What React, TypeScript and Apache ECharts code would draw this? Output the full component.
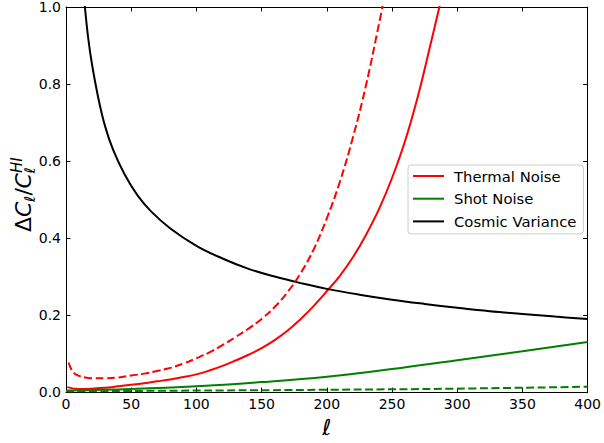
import React, { useEffect, useRef } from "react";
import * as echarts from "echarts";

// Cosmic variance (black)
const cvL = [10, 12, 14.5, 17, 20, 25, 30, 36, 45, 55, 65, 80, 100, 120, 140, 160, 180, 200, 225, 250, 275, 300, 325, 350, 375, 400];
const cvV = [1.2, 1.1, 1.0, 0.92, 0.85, 0.76, 0.69, 0.63, 0.565, 0.51, 0.47, 0.425, 0.38, 0.347, 0.32, 0.3, 0.283, 0.268, 0.253, 0.24, 0.229, 0.219, 0.21, 0.203, 0.196, 0.19];

// Thermal noise (solid red)
const tnL = [1, 10, 20, 30, 40, 50, 60, 70, 80, 90, 100, 110, 120, 130, 140, 150, 160, 170, 180, 190, 200, 210, 220, 230, 240, 250, 260, 270, 280, 287];
const tnV = [0.013, 0.008, 0.009, 0.011, 0.015, 0.019, 0.023, 0.028, 0.033, 0.039, 0.046, 0.056, 0.068, 0.082, 0.097, 0.114, 0.135, 0.16, 0.19, 0.224, 0.262, 0.302, 0.35, 0.408, 0.475, 0.556, 0.652, 0.77, 0.91, 1.01];

// Thermal noise (dashed red)
const tndL = [2, 4, 7, 10, 15, 20, 30, 40, 50, 60, 70, 80, 90, 100, 110, 120, 130, 140, 150, 160, 170, 180, 190, 200, 210, 220, 230, 240, 243];
const tndV = [0.077, 0.06, 0.047, 0.042, 0.038, 0.036, 0.036, 0.038, 0.043, 0.048, 0.055, 0.063, 0.074, 0.088, 0.103, 0.122, 0.143, 0.165, 0.19, 0.221, 0.26, 0.309, 0.371, 0.451, 0.546, 0.661, 0.796, 0.956, 1.007];

// Shot noise (solid green)
const snL = [0, 50, 100, 150, 200, 250, 300, 350, 400];
const snV = [0.004, 0.008, 0.015, 0.026, 0.04, 0.06, 0.083, 0.106, 0.13];

// Shot noise (dashed green)
const sndL = [0, 100, 200, 300, 400];
const sndV = [0.002, 0.004, 0.006, 0.009, 0.014];

const legendNames = ["Thermal Noise", "Shot Noise", "Cosmic Variance"];
const xTicks = { min: 0, max: 400, interval: 50 };
const yTicks = { min: 0, max: 1, interval: 0.2 };

const FONT = "DejaVu Sans";

const zip = (xs: number[], ys: number[]) => xs.map((x, i) => [x, ys[i]]);

// text piece of the rotated y-axis title; baseline offset b, font size fs
const piece = (text: string, x: number, b: number, fs: number, italic: boolean) => ({
  type: "text",
  x,
  y: b - 0.3 * fs,
  style: {
    text,
    fontSize: fs,
    fontStyle: italic ? "italic" : "normal",
    fontFamily: FONT,
    fill: "#000",
    verticalAlign: "middle",
    align: "left",
  },
});

export default function App() {
  const ref = useRef<HTMLDivElement>(null);
  useEffect(() => {
    if (!ref.current) return;
    const chart = echarts.init(ref.current, null, { renderer: "svg" });
    const axisLine = { show: true, onZero: false, lineStyle: { color: "#000", width: 1 } };
    const axisTick = { show: true, inside: true, length: 4.5, lineStyle: { color: "#000", width: 1 } };
    const labelStyle = { fontSize: 14, color: "#000", fontFamily: FONT };
    const line = (name: string, data: number[][], color: string, dashed: boolean) => ({
      type: "line",
      name,
      data,
      symbol: "none",
      showSymbol: false,
      smooth: 0.4,
      clip: true,
      lineStyle: { color, width: 2, type: dashed ? [8, 3.5] : "solid" },
      itemStyle: { color },
      z: 3,
    });
    const sub = 15;
    chart.setOption({
      animation: false,
      backgroundColor: "#fff",
      grid: { left: 66, right: 13, top: 5, bottom: 48, containLabel: false },
      xAxis: [
        {
          type: "value",
          ...xTicks,
          position: "bottom",
          axisLine,
          axisTick,
          axisLabel: { ...labelStyle, margin: 5 },
          splitLine: { show: false },
          name: "ℓ",
          nameLocation: "middle",
          nameGap: 16,
          nameTextStyle: { fontSize: 22, fontStyle: "italic", color: "#000", fontFamily: FONT },
        },
        {
          type: "value",
          ...xTicks,
          position: "top",
          axisLine,
          axisTick,
          axisLabel: { show: false },
          splitLine: { show: false },
        },
      ],
      yAxis: [
        {
          type: "value",
          ...yTicks,
          position: "left",
          axisLine,
          axisTick,
          axisLabel: { ...labelStyle, margin: 5, formatter: (v: number) => v.toFixed(1) },
          splitLine: { show: false },
        },
        {
          type: "value",
          ...yTicks,
          position: "right",
          axisLine,
          axisTick,
          axisLabel: { show: false },
          splitLine: { show: false },
        },
      ],
      legend: {
        orient: "vertical",
        left: 408,
        top: 165,
        data: legendNames,
        icon: "rect",
        itemWidth: 31,
        itemHeight: 2,
        itemGap: 7.7,
        padding: [3.5, 7, 5, 5],
        backgroundColor: "#fff",
        borderColor: "#cccccc",
        borderWidth: 1,
        borderRadius: 3,
        textStyle: { fontSize: 14.8, lineHeight: 14, color: "#000", fontFamily: FONT, padding: [0, 0, 0, 5] },
        selectedMode: false,
      },
      graphic: [
        {
          type: "group",
          x: 30,
          y: 232,
          rotation: Math.PI / 2,
          children: [
            piece("Δ", 0, 0, 22, false),
            piece("C", 15, 0, 22, true),
            piece("ℓ", 30, 4.5, sub, true),
            piece("/", 36.5, 0, 22, false),
            piece("C", 43.5, 0, 22, true),
            piece("ℓ", 58.5, 4.5, sub, true),
            piece("HI", 59, -9, sub, true),
          ],
        },
      ],
      series: [
        line("Thermal Noise", zip(tnL, tnV), "#ff0000", false),
        line("Shot Noise", zip(snL, snV), "#008000", false),
        line("Cosmic Variance", zip(cvL, cvV), "#000000", false),
        line("Thermal Noise", zip(tndL, tndV), "#ff0000", true),
        line("Shot Noise", zip(sndL, sndV), "#008000", true),
      ],
    });
    return () => chart.dispose();
  }, []);
  return (
    <div
      ref={ref}
      style={{ position: "absolute", left: 0, top: 0, width: 604, height: 443, background: "#fff" }}
    />
  );
}
